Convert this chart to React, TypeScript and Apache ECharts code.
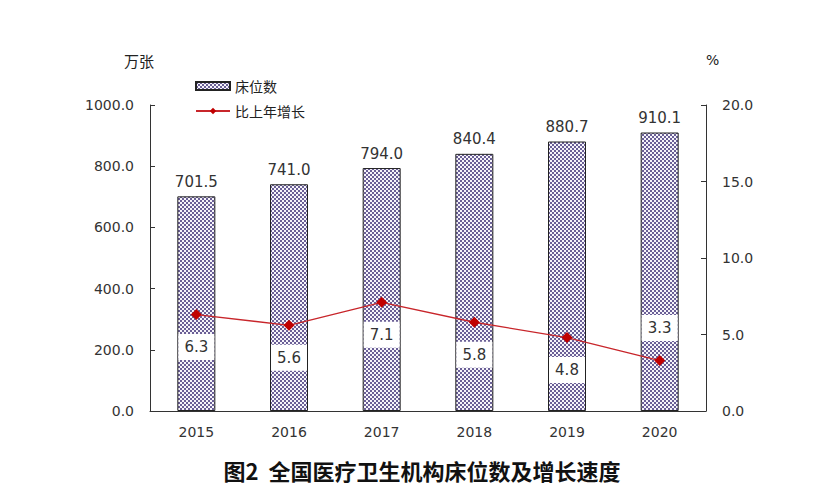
import React, { useEffect, useRef } from "react";
import * as echarts from "echarts";

const years = ["2015", "2016", "2017", "2018", "2019", "2020"];
const beds = [701.5, 741.0, 794.0, 840.4, 880.7, 910.1];
const growth = [6.3, 5.6, 7.1, 5.8, 4.8, 3.3];
const growthLabelPos = ["bottom", "bottom", "bottom", "bottom", "bottom", "top"];
const bedsName = "床位数";
const growthName = "比上年增长";
const leftUnit = "万张";
const rightUnit = "%";
const caption = "图2  全国医疗卫生机构床位数及增长速度";

const NUM_FONT = "DejaVu Sans";
const CJK_FONT = "Noto Sans CJK SC";

function makePattern(): HTMLCanvasElement {
  const c = document.createElement("canvas");
  c.width = 4;
  c.height = 4;
  const ctx = c.getContext("2d")!;
  ctx.fillStyle = "#f6f4fa";
  ctx.fillRect(0, 0, 4, 4);
  ctx.fillStyle = "#6a5f96";
  ctx.fillRect(0, 0, 2, 2);
  ctx.fillRect(2, 2, 2, 2);
  return c;
}

export default function App() {
  const ref = useRef<HTMLDivElement>(null);
  useEffect(() => {
    document.body.style.margin = "0";
    if (!ref.current) return;
    const chart = echarts.init(ref.current, null, { renderer: "svg" });
    const pattern = { image: makePattern(), repeat: "repeat" };
    const axisColor = "#333";
    chart.setOption({
      animation: false,
      backgroundColor: "#fff",
      grid: { left: 150, right: 128, top: 105, bottom: 93 },
      legend: {
        orient: "vertical",
        left: 190,
        top: 74,
        itemWidth: 34,
        itemHeight: 8,
        itemGap: 11,
        textStyle: { fontFamily: CJK_FONT, fontSize: 14, color: "#222" },
        data: [
          { name: bedsName, icon: "rect" },
          { name: growthName },
        ],
      },
      xAxis: {
        type: "category",
        data: years,
        axisLine: { lineStyle: { color: axisColor, width: 1 } },
        axisTick: { inside: true, length: 5, lineStyle: { color: axisColor } },
        axisLabel: { color: "#333", fontSize: 14, fontFamily: NUM_FONT, margin: 14 },
      },
      yAxis: [
        {
          type: "value",
          min: 0,
          max: 1000,
          interval: 200,
          splitLine: { show: false },
          axisLine: { show: true, lineStyle: { color: axisColor } },
          axisTick: { show: true, inside: true, length: 5, lineStyle: { color: axisColor } },
          axisLabel: {
            color: "#333",
            fontSize: 14,
            fontFamily: NUM_FONT,
            margin: 16,
            formatter: (v: number) => v.toFixed(1),
          },
        },
        {
          type: "value",
          min: 0,
          max: 20,
          interval: 5,
          splitLine: { show: false },
          axisLine: { show: true, lineStyle: { color: axisColor } },
          axisTick: { show: true, inside: true, length: 5, lineStyle: { color: axisColor } },
          axisLabel: {
            color: "#333",
            fontSize: 14,
            fontFamily: NUM_FONT,
            margin: 16,
            formatter: (v: number) => v.toFixed(1),
          },
        },
      ],
      series: [
        {
          name: bedsName,
          type: "bar",
          data: beds,
          barWidth: 38,
          itemStyle: { color: pattern, borderColor: "#222", borderWidth: 1 },
          label: {
            show: true,
            position: "top",
            distance: 7,
            color: "#333",
            fontSize: 15,
            fontFamily: NUM_FONT,
            formatter: (p: any) => Number(p.value).toFixed(1),
          },
        },
        {
          name: growthName,
          type: "line",
          yAxisIndex: 1,
          data: growth.map((v, i) => ({
            value: v,
            label: { position: growthLabelPos[i] },
          })),
          symbol: "diamond",
          symbolSize: 11,
          itemStyle: { color: "#c00000" },
          lineStyle: { color: "#c8262b", width: 1.3 },
          label: {
            show: true,
            distance: 14,
            color: "#333",
            fontSize: 15,
            fontFamily: NUM_FONT,
            backgroundColor: "#fff",
            width: 34,
            height: 26,
            lineHeight: 26,
            align: "center",
            padding: [0, 1],
            formatter: (p: any) => Number(p.value).toFixed(1),
          },
          z: 5,
        },
      ],
      graphic: [
        {
          type: "text",
          left: 124,
          top: 53,
          style: { text: leftUnit, fontFamily: CJK_FONT, fontSize: 15, fill: "#222" },
        },
        {
          type: "text",
          left: 706,
          top: 53,
          style: { text: rightUnit, fontFamily: NUM_FONT, fontSize: 14, fill: "#222" },
        },
        {
          type: "text",
          x: 422,
          y: 470,
          style: {
            text: caption,
            fontFamily: CJK_FONT,
            fontSize: 22,
            fontWeight: "bold",
            fill: "#111",
            align: "center",
            verticalAlign: "middle",
          },
        },
      ],
    });
    return () => chart.dispose();
  }, []);
  return <div ref={ref} style={{ width: 834, height: 504 }} />;
}
